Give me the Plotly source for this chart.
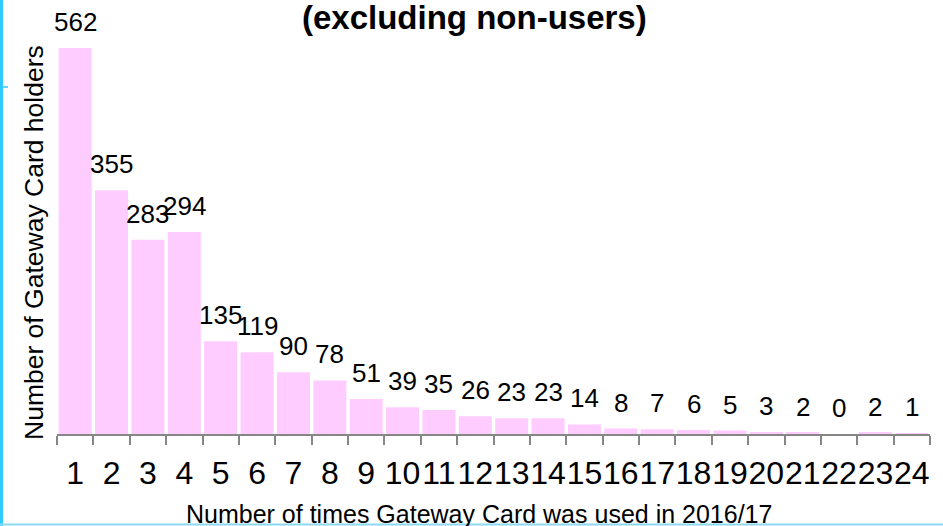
import plotly.graph_objects as go

categories = [str(i) for i in range(1, 25)]
values = [562, 355, 283, 294, 135, 119, 90, 78, 51, 39, 35, 26, 23, 23, 14, 8, 7, 6, 5, 3, 2, 0, 2, 1]
title_text = "(excluding non-users)"
x_title = "Number of times Gateway Card was used in 2016/17"
y_title = "Number of Gateway Card holders"

W, H = 943, 526
L, R, T, B = 57, 930, 40, 434
YMAX = 562 * (B - T) / (B - 48)


def px(x):
    return (x - L) / (R - L)


def py(y):
    return (B - y) / (B - T)


FONT = "Liberation Sans, Arial, sans-serif"

fig = go.Figure()
fig.add_trace(go.Bar(
    x=categories, y=values,
    marker=dict(color="#FFCCFF", line=dict(width=0)),
    hoverinfo="skip",
))

annotations = []
for i, v in enumerate(values):
    annotations.append(dict(
        x=i, y=v, xref="x", yref="y", text=str(v), showarrow=False,
        yanchor="bottom", xanchor="center", yshift=9,
        font=dict(family=FONT, size=26, color="#000000"),
    ))

annotations.append(dict(
    x=px(474), y=py(18), xref="paper", yref="paper", text="<b>" + title_text + "</b>",
    showarrow=False, xanchor="center", yanchor="middle",
    font=dict(family=FONT, size=33, color="#000000"),
))
annotations.append(dict(
    x=px(479), y=py(514), xref="paper", yref="paper", text=x_title,
    showarrow=False, xanchor="center", yanchor="middle",
    font=dict(family=FONT, size=25, color="#000000"),
))
annotations.append(dict(
    x=px(34), y=py(243), xref="paper", yref="paper", text=y_title,
    showarrow=False, xanchor="center", yanchor="middle", textangle=-90,
    font=dict(family=FONT, size=26.5, color="#000000"),
))

shapes = [
    dict(type="line", xref="paper", yref="paper", x0=px(1.5), x1=px(1.5), y0=py(0), y1=py(H),
         line=dict(color="#2ECBFF", width=3)),
    dict(type="line", xref="paper", yref="paper", x0=px(3), x1=px(8), y0=py(87), y1=py(87),
         line=dict(color="#2ECBFF", width=1.5)),
    dict(type="line", xref="paper", yref="paper", x0=px(0), x1=px(W), y0=py(524.5), y1=py(524.5),
         line=dict(color="#8ED8F2", width=2)),
]

fig.update_layout(
    width=W, height=H,
    margin=dict(l=L, r=W - R, t=T, b=H - B, pad=0, autoexpand=False),
    paper_bgcolor="white", plot_bgcolor="white",
    bargap=0.09,
    showlegend=False,
    annotations=annotations,
    shapes=shapes,
    font=dict(family=FONT, color="#000000"),
)
fig.update_xaxes(
    type="category", tickson="boundaries", ticks="outside", ticklen=9, tickwidth=2,
    tickcolor="#868686", showline=True, linecolor="#868686", linewidth=2,
    showgrid=False, zeroline=False, automargin=False,
    tickmode="array", tickvals=categories, ticktext=categories, tickangle=0,
    ticklabelstandoff=10,
    tickfont=dict(family=FONT, size=32, color="#000000"),
    range=[-0.5, 23.5],
)
fig.update_yaxes(
    range=[0, YMAX], visible=False, showgrid=False, zeroline=False, automargin=False,
)

fig.write_html(
    "out.html",
    config={"displayModeBar": False},
    post_script="document.body.style.margin='0';document.body.style.overflow='hidden';",
)
